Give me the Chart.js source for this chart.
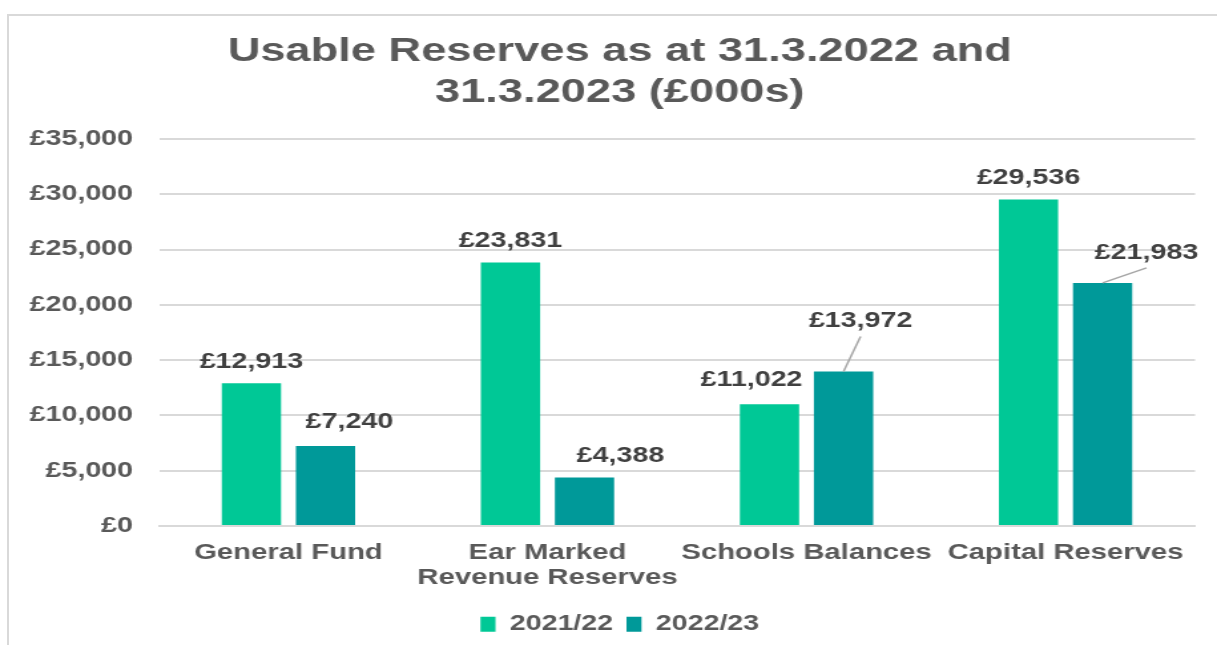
<!DOCTYPE html>
<html>
<head>
<meta charset="utf-8">
<title>Usable Reserves</title>
<script src="https://cdn.jsdelivr.net/npm/chart.js@4.4.1/dist/chart.umd.min.js"></script>
<style>
  html, body { margin: 0; padding: 0; background: #fff; overflow: hidden; }
  .frame {
    position: absolute; left: 7px; top: 14px;
    width: 1300px; height: 700px;
    border: 2px solid #d9d9d9;
  }
  #reservesChart { position: absolute; left: 0; top: 0; }
</style>
</head>
<body>
<div class="frame"></div>
<!-- drawn narrow and widened by CSS, so the lettering comes out broad -->
<canvas id="reservesChart" width="915" height="645" style="width:1217px;height:645px"></canvas>
<script>
// -------------------------------
// DATA
// -------------------------------
const categories = [
  "General Fund",
  ["Ear Marked", "Revenue Reserves"],
  "Schools Balances",
  "Capital Reserves"
];
const seriesNames = ["2021/22", "2022/23"];
const reserves2122 = [12913, 23831, 11022, 29536];
const reserves2223 = [7240, 4388, 13972, 21983];
const yMin = 0;
const yMax = 35000;
const yStep = 5000;

// -------------------------------
// STYLE
// -------------------------------
const FONT = "'Liberation Sans', Arial, sans-serif";
const GREY = "#595959";
const GRID = "#d9d9d9";
const COLORS = ["#00c896", "#009999"];

// label nudges [dx, dy, leader line?] per dataset / bar
const labelNudges = [
  [[0, -21, false], [0, -21, false], [-13.5, -24, false], [0, -21, false]],
  [[18, -24, false], [27, -21, false], [12.8, -50, true], [33, -30, true]]
];

const money = (v) => "£" + Number(v).toLocaleString("en-GB");

// -------------------------------
// VALUE LABELS PLUGIN
// -------------------------------
const valueLabels = {
  id: "valueLabels",
  afterDatasetsDraw(chart) {
    const ctx = chart.ctx;
    ctx.save();
    ctx.font = `bold 21.5px ${FONT}`;
    ctx.textAlign = "center";
    ctx.textBaseline = "middle";

    chart.data.datasets.forEach((ds, di) => {
      const meta = chart.getDatasetMeta(di);
      meta.data.forEach((bar, i) => {
        const [dx, dy, leader] = labelNudges[di][i];
        const lx = bar.x + dx;
        const ly = bar.y + dy;

        if (leader) {
          ctx.strokeStyle = "#a6a6a6";
          ctx.lineWidth = 1.5;
          ctx.beginPath();
          ctx.moveTo(lx, ly + 15);
          ctx.lineTo(bar.x, bar.y);
          ctx.stroke();
        }

        ctx.fillStyle = "#404040";
        ctx.fillText(money(ds.data[i]), lx, ly);
      });
    });

    ctx.restore();
  }
};

// -------------------------------
// CHART
// -------------------------------
const ctx = document.getElementById("reservesChart").getContext("2d");

new Chart(ctx, {
  type: "bar",
  data: {
    labels: categories,
    datasets: [
      {
        label: seriesNames[0],
        data: reserves2122,
        backgroundColor: COLORS[0],
        barPercentage: 0.8,
        categoryPercentage: 0.572
      },
      {
        label: seriesNames[1],
        data: reserves2223,
        backgroundColor: COLORS[1],
        barPercentage: 0.8,
        categoryPercentage: 0.572
      }
    ]
  },
  options: {
    responsive: false,
    animation: false,
    devicePixelRatio: 1,
    layout: {
      padding: { left: 19.5, right: 2.5, top: 0, bottom: 0 }
    },
    plugins: {
      title: {
        display: true,
        text: ["Usable Reserves as at 31.3.2022 and", "31.3.2023 (£000s)"],
        color: GREY,
        font: { family: FONT, size: 34, weight: "bold", lineHeight: 1.2 },
        padding: { top: 31.6, bottom: 25.8 }
      },
      legend: {
        position: "bottom",
        labels: {
          color: GREY,
          font: { family: FONT, size: 21.5, weight: "bold" },
          boxWidth: 11.3,
          boxHeight: 15,
          padding: 10
        }
      },
      tooltip: { enabled: false }
    },
    scales: {
      x: {
        grid: { display: false },
        border: { color: GRID, width: 2 },
        ticks: {
          color: GREY,
          font: { family: FONT, size: 22, weight: "bold", lineHeight: 1.14 },
          padding: 6,
          maxRotation: 0,
          autoSkip: false
        },
        afterFit(scale) {
          scale.height = 77.5;
        }
      },
      y: {
        min: yMin,
        max: yMax,
        grid: { color: GRID, lineWidth: 2, drawTicks: false },
        border: { display: false },
        ticks: {
          stepSize: yStep,
          color: GREY,
          font: { family: FONT, size: 21.5, weight: "bold" },
          padding: 19.5,
          callback: (v) => money(v)
        },
        afterFit(scale) {
          scale.width = 100;
        }
      },
      // empty right-hand gutter so the title and legend sit centred
      ySpacer: {
        type: "linear",
        axis: "y",
        position: "right",
        grid: { display: false },
        border: { display: false },
        ticks: { display: false },
        afterFit(scale) {
          scale.width = 14;
        }
      }
    }
  },
  plugins: [valueLabels]
});
</script>
</body>
</html>
